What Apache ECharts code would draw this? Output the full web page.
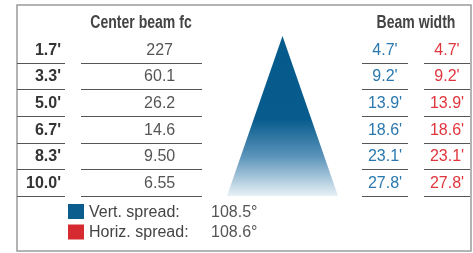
<!DOCTYPE html>
<html>
<head>
<meta charset="utf-8">
<title>Beam chart</title>
<script src="https://cdn.jsdelivr.net/npm/echarts@6/dist/echarts.min.js"></script>
<style>
html, body { margin: 0; padding: 0; background: #fff; }
#chart { width: 473px; height: 253px; }
</style>
</head>
<body>
<div id="chart"></div>
<script>
// data
var distances = [1.7, 3.3, 5.0, 6.7, 8.3, 10.0];
var centerFc = [227, 60.1, 26.2, 14.6, 9.50, 6.55];
var beamVert = [4.7, 9.2, 13.9, 18.6, 23.1, 27.8];
var beamHoriz = [4.7, 9.2, 13.9, 18.6, 23.1, 27.8];
var spreadNames = ['Vert. spread', 'Horiz. spread'];
var spreadDeg = [108.5, 108.6];

var rowLabels = distances.map(function (d) { return d.toFixed(1) + "'"; });
var FONT = "'Liberation Sans', Arial, sans-serif";
var HEAD_FONT = "bold 18px 'Liberation Sans', Arial, sans-serif";

// columns: labels, center fc, cone, vert width, horiz width
var cols = [
    { left: 17, width: 48 },
    { left: 81, width: 121 },
    { left: 227, width: 111 },
    { left: 362, width: 46 },
    { left: 424, width: 46 }
];

function feet(v) { return v.toFixed(1) + "'"; }

function cellSeries(name, idx, values, fmt, xPos, align, textColor, weight, markColor) {
    return {
        type: 'custom',
        name: name,
        xAxisIndex: idx,
        yAxisIndex: idx,
        itemStyle: { color: markColor || textColor },
        data: values.map(function (v, i) { return [xPos, i]; }),
        renderItem: function (params, api) {
            var row = api.value(1);
            var p = api.coord([xPos, row]);
            var left = api.coord([0, row])[0];
            var right = api.coord([1, row])[0];
            var h = api.size([0, 1])[1];
            var y = Math.round(p[1] + h / 2) + 0.5;
            return {
                type: 'group',
                children: [
                    { type: 'line', shape: { x1: left, y1: y, x2: right, y2: y },
                      style: { stroke: '#555', lineWidth: 1 } },
                    { type: 'text', x: align === 'right' ? right - 4 : p[0], y: p[1] + 1,
                      style: { text: fmt(values[params.dataIndex]), fill: textColor,
                               font: weight + ' 16px ' + FONT, align: align, verticalAlign: 'middle' } }
                ]
            };
        }
    };
}

var grids = cols.map(function (c) {
    return { left: c.left, width: c.width, top: 36, bottom: 57 };
});
var xAxes = cols.map(function (c, i) {
    return { gridIndex: i, type: 'value', min: i === 2 ? -1 : 0, max: 1, show: false };
});
var yAxes = cols.map(function (c, i) {
    if (i === 2) return { gridIndex: i, type: 'value', min: 0, max: 1, show: false };
    return { gridIndex: i, type: 'category', data: rowLabels, inverse: true, show: false };
});

var cone = {
    type: 'custom',
    name: 'cone',
    xAxisIndex: 2,
    yAxisIndex: 2,
    data: [[0, 1]],
    renderItem: function (params, api) {
        var apex = api.coord([0, 1]);
        var bl = api.coord([-1, 0]);
        var br = api.coord([1, 0]);
        return {
            type: 'polygon',
            shape: { points: [apex, bl, br] },
            style: {
                fill: new echarts.graphic.LinearGradient(0, 0, 0, 1, [
                    { offset: 0, color: '#055a8c' },
                    { offset: 0.52, color: '#075c8d' },
                    { offset: 0.75, color: '#5a93ba' },
                    { offset: 1, color: '#e8f1f6' }
                ])
            }
        };
    }
};

var chart = echarts.init(document.getElementById('chart'));
chart.setOption({
    animation: false,
    grid: grids,
    xAxis: xAxes,
    yAxis: yAxes,
    legend: {
        data: spreadNames,
        orient: 'vertical',
        left: 68,
        top: 204,
        padding: 0,
        icon: 'rect',
        itemWidth: 16,
        itemHeight: 15,
        itemGap: 4,
        selectedMode: false,
        formatter: function (name) {
            var i = spreadNames.indexOf(name);
            return '{n|' + name + ':}{v|' + spreadDeg[i].toFixed(1) + '°}';
        },
        textStyle: {
            fontFamily: FONT,
            rich: {
                n: { width: 122, fontSize: 16, color: '#444', fontFamily: FONT, padding: [2, 0, 0, 0] },
                v: { fontSize: 16, color: '#555', fontFamily: FONT, padding: [2, 0, 0, 0] }
            }
        }
    },
    graphic: [
        { type: 'rect', shape: { x: 17, y: 5, width: 454, height: 246 },
          style: { fill: 'none', stroke: '#9a9a9a', lineWidth: 1.5 } },
        { type: 'text', x: 141, y: 23, scaleX: 0.78, style: { text: 'Center beam fc', font: HEAD_FONT, fill: '#444', align: 'center', verticalAlign: 'middle' } },
        { type: 'text', x: 416, y: 23, scaleX: 0.78, style: { text: 'Beam width', font: HEAD_FONT, fill: '#444', align: 'center', verticalAlign: 'middle' } }
    ],
    series: [
        cellSeries('Distance', 0, distances, feet, 1, 'right', '#333', 'bold'),
        cellSeries('Center beam fc', 1, centerFc, function (v) { return v.toPrecision(3); }, 0.65, 'center', '#555', 'normal'),
        cone,
        cellSeries(spreadNames[0], 3, beamVert, feet, 0.5, 'center', '#2a78ae', 'normal', '#0b5d8e'),
        cellSeries(spreadNames[1], 4, beamHoriz, feet, 0.5, 'center', '#e0353d', 'normal', '#d42a30')
    ]
});
</script>
</body>
</html>
